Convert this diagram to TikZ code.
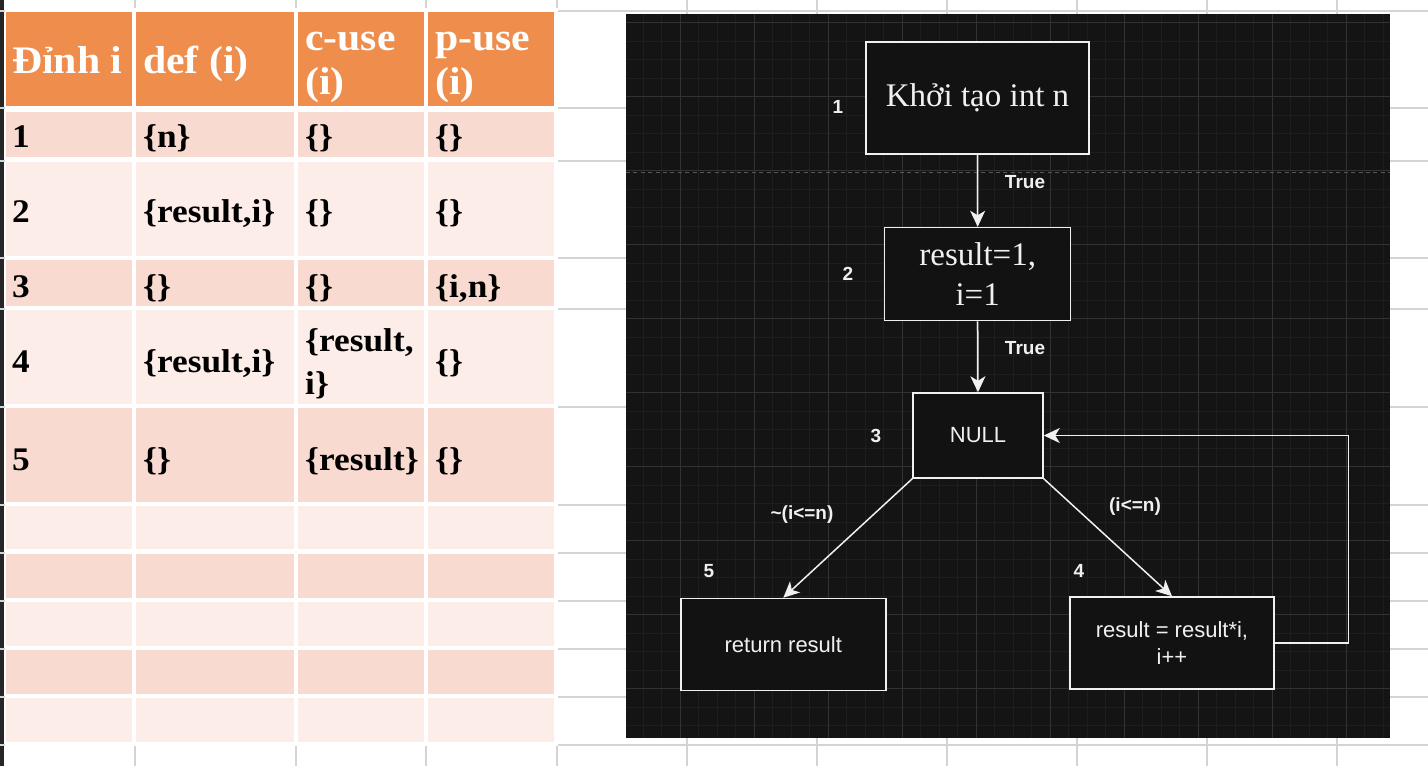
\documentclass[tikz,border=0pt]{standalone}
\usepackage{fontspec}
\setmainfont{Liberation Serif}
\newfontfamily\tblfont[FakeStretch=1.07]{Liberation Serif}
\newfontfamily\lsans{Liberation Sans}
\usetikzlibrary{arrows.meta}
\definecolor{sheetline}{HTML}{D4D4D4}
\definecolor{hdr}{HTML}{EE8D4C}
\definecolor{rowdark}{HTML}{F8DAD0}
\definecolor{rowlight}{HTML}{FCEDE8}
\definecolor{panel}{HTML}{141414}
\definecolor{gridminor}{HTML}{1E1E1E}
\definecolor{gridmajor}{HTML}{323232}
\definecolor{boxfill}{HTML}{121212}
\definecolor{ink}{HTML}{F0F0F0}
\definecolor{pagebreak}{HTML}{575757}
\definecolor{edgestrip}{HTML}{262626}
\tikzset{
  hdrtext/.style={anchor=base west, inner sep=0pt, text=white, font=\tblfont\bfseries\fontsize{39}{45}\selectfont},
  celltext/.style={anchor=base west, inner sep=0pt, text=black, font=\tblfont\bfseries\fontsize{33}{40}\selectfont},
  flowbox/.style={draw=ink, line width=1.5pt, fill=boxfill, text=ink, inner sep=0pt, align=center},
  serifbox/.style={flowbox, font=\fontsize{33}{40}\selectfont},
  sansbox/.style={flowbox, font=\lsans\fontsize{22}{26.4}\selectfont},
  numlabel/.style={text=ink, inner sep=0pt, font=\lsans\bfseries\fontsize{19}{23}\selectfont},
  arr/.style={draw=ink, line width=1.5pt, -{Stealth[length=16pt,width=15pt,inset=4.5pt]}},
}
\begin{document}
\begin{tikzpicture}[x=1pt,y=-1pt]
\useasboundingbox (0,0) rectangle (1428,766);
\fill[white] (0,0) rectangle (1428,766);
% dark left strip
\fill[edgestrip] (0,0) rectangle (4,766);
% spreadsheet grid
\foreach \yy in {11,108,160.5,258,308.5,406.5,504.5,552.5,600.5,648.5,696.5,744.5}
  \draw[sheetline, line width=2pt] (0,\yy) -- (1428,\yy);
\foreach \xx in {135,296,426,556.5,687,817,947,1077,1207,1337}
  \draw[sheetline, line width=2pt] (\xx,0) -- (\xx,766);
% table area
\fill[white] (4.5,7.5) rectangle (557.5,745.5);
\foreach \xa/\xb in {5.7/132,136/294,298/424,428/554}
  \fill[hdr] (\xa,12.3) rectangle (\xb,106);
\foreach \ya/\yb/\cc in {112/157.3/rowdark,162.3/256/rowlight,260.3/305.7/rowdark,310.3/403.7/rowlight,408.3/501.7/rowdark,506.3/549.3/rowlight,554/597.7/rowdark,602.3/645.7/rowlight,650/693.7/rowdark,698.3/741.7/rowlight}
  \foreach \xa/\xb in {5.7/132,136/294,298/424,428/554}
    \fill[\cc] (\xa,\ya) rectangle (\xb,\yb);
% header text
\node[hdrtext] (h1) at (12,73.3) {Đỉnh i};
\node[hdrtext] (h2) at (143,73.3) {def (i)};
\node[hdrtext] (h3a) at (305,50) {c-use};
\node[hdrtext] (h3b) at (305,94) {(i)};
\node[hdrtext] (h4a) at (435,50) {p-use};
\node[hdrtext] (h4b) at (435,94) {(i)};
% body text
\node[celltext] (r1a) at (12,147) {1};
\node[celltext] (r1b) at (143,147) {\{n\}};
\node[celltext] (r1c) at (305,147) {\{\}};
\node[celltext] (r1d) at (435,147) {\{\}};
\node[celltext] (r2a) at (12,222.7) {2};
\node[celltext] (r2b) at (143,222.7) {\{result,i\}};
\node[celltext] (r2c) at (305,222.7) {\{\}};
\node[celltext] (r2d) at (435,222.7) {\{\}};
\node[celltext] (r3a) at (12,297) {3};
\node[celltext] (r3b) at (143,297) {\{\}};
\node[celltext] (r3c) at (305,297) {\{\}};
\node[celltext] (r3d) at (435,297) {\{i,n\}};
\node[celltext] (r4a) at (12,372) {4};
\node[celltext] (r4b) at (143,372) {\{result,i\}};
\node[celltext] (r4c1) at (305,351) {\{result,};
\node[celltext] (r4c2) at (305,394.5) {i\}};
\node[celltext] (r4d) at (435,372) {\{\}};
\node[celltext] (r5a) at (12,470) {5};
\node[celltext] (r5b) at (143,470) {\{\}};
\node[celltext] (r5c) at (305,470) {\{result\}};
\node[celltext] (r5d) at (435,470) {\{\}};
% drawing panel
\fill[panel] (626,14) rectangle (1390,738);
\begin{scope}
  \clip (626,14) rectangle (1390,738);
  \foreach \i in {0,...,42}
    \draw[gridminor, line width=1pt] (624.5+18.5*\i,14) -- (624.5+18.5*\i,738);
  \foreach \i in {1,...,40}
    \draw[gridminor, line width=1pt] (626,4.2+18.5*\i) -- (1390,4.2+18.5*\i);
  \foreach \i in {0,...,9}
    \draw[gridmajor, line width=1pt] (680+74*\i,14) -- (680+74*\i,738);
  \foreach \i in {0,...,9}
    \draw[gridmajor, line width=1pt] (626,22.7+74*\i) -- (1390,22.7+74*\i);
\end{scope}
\draw[pagebreak, line width=1.5pt, dash pattern=on 4pt off 3.4pt] (626,172.5) -- (1390,172.5);
% flow boxes
\node[serifbox, minimum width=223pt, minimum height=112pt] (b1) at (977.5,98) {Khởi tạo int n};
\node[serifbox, minimum width=186pt, minimum height=93pt] (b2) at (977.7,274) {result=1,\\i=1};
\node[sansbox, minimum width=130pt, minimum height=85pt] (b3) at (978,435.5) {NULL};
\node[sansbox, minimum width=205pt, minimum height=92pt] (b5) at (783.3,644.5) {return result};
\node[sansbox, minimum width=204pt, minimum height=92pt] (b4) at (1172,643) {result = result*i,\\i++};
% connectors
\draw[arr] (b1.south) -- (b2.north);
\draw[arr] (b2.south) -- (b3.north);
\draw[arr] (b3.south west) -- (b5.north);
\draw[arr] (b3.south east) -- (b4.north);
\coordinate (lp) at (1348.3,540);
\draw[arr] (b4.east) -| (lp) |- (b3.east);
% labels
\node[numlabel] (t1) at (1025,182) {True};
\node[numlabel] (t2) at (1025,348) {True};
\node[numlabel] (c5) at (802,515) {\textasciitilde(i<=n)};
\node[numlabel] (c4) at (1135,507) {(i<=n)};
\node[numlabel] (n1) at (838,107) {1};
\node[numlabel] (n2) at (848,274) {2};
\node[numlabel] (n3) at (876,436) {3};
\node[numlabel] (n5) at (709,571) {5};
\node[numlabel] (n4) at (1079,571) {4};
\end{tikzpicture}
\end{document}
